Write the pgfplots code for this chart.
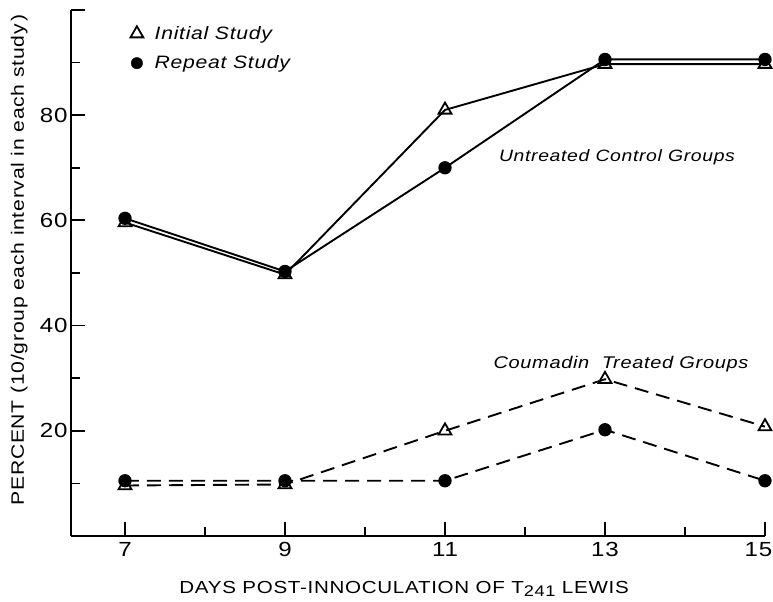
\documentclass[border=0pt]{standalone}
\usepackage{fontspec}
\setmainfont{Liberation Sans}[FakeStretch=1.18, LetterSpace=4]
\usepackage{pgfplots}
\pgfplotsset{compat=1.18}
\pgfplotsset{markonly legend/.style={legend image code/.code={\draw[##1] plot coordinates {(0.3cm,0cm)}; \path (0cm,0cm) (0.85cm,0cm);}}}
\begin{document}
\begin{tikzpicture}
\begin{axis}[
  name=ax,
  scale only axis,
  width=694bp, height=526bp,
  xmin=6.325, xmax=15, ymin=0, ymax=100,
  axis x line=bottom, axis y line=left,
  axis line style={-, line width=2.2bp},
  tick align=inside,
  major tick length=14bp, minor tick length=9bp,
  tick style={line width=1.8bp, black},
  xtick={7,9,11,13,15}, minor xtick={8,10,12,14},
  xticklabels={7,9,11,13,\hspace{-13bp}15},
  ytick={20,40,60,80,100}, yticklabels={20,40,60,80,},
  minor ytick={10,30,50,70,90},
  ticklabel style={font=\fontsize{20.5}{22}\selectfont},
  xticklabel style={yshift=-3bp},
  /pgf/number format/assume math mode=true,
  xlabel={DAYS POST-INNOCULATION OF T\raisebox{-0.35ex}{\fontsize{15.5}{16}\selectfont 241} LEWIS},
  ylabel={PERCENT (10/group each interval in each study\,)},
  xlabel style={font=\fontsize{17.5}{20}\selectfont, at={(axis description cs:0.48,0)}, yshift=-42bp, anchor=north},
  ylabel style={font=\fontsize{18}{20}\selectfont, at={(axis description cs:0,0.525)}, yshift=40bp},
  legend style={at={(axis cs:7.04,97.25)}, anchor=north west, draw=none, fill=none,
    inner sep=0pt, outer sep=0pt,
    font=\fontsize{18}{20}\selectfont\itshape, row sep=11bp},
  legend cell align=left,
]
% Untreated control groups
\addplot[black, line width=1.9bp, mark=triangle, mark size=7.4bp, mark options={fill=white, line width=1.8bp}, forget plot]
  coordinates {(7,59.6) (9,49.7) (11,81) (13,89.7) (15,89.7)};
\addplot[black, line width=1.9bp, mark=*, mark size=5.7bp, forget plot]
  coordinates {(7,60.4) (9,50.3) (11,70) (13,90.6) (15,90.6)};
% Coumadin treated groups
\addplot[black, line width=1.9bp, dash pattern=on 14bp off 8bp, mark=triangle, mark size=7.4bp, mark options={solid, fill=white, line width=1.8bp}, forget plot]
  coordinates {(7,9.6) (9,9.8) (11,20) (13,29.8) (15,20.8)};
\addplot[black, line width=1.9bp, dash pattern=on 14bp off 8bp, mark=*, mark size=5.7bp, mark options={solid}, forget plot]
  coordinates {(7,10.5) (9,10.5) (11,10.5) (13,20.2) (15,10.5)};
\addlegendimage{only marks, black, mark=triangle, mark size=7.4bp, mark options={fill=white, line width=1.8bp}, markonly legend}
\addlegendentry{Initial Study}
\addlegendimage{only marks, black, mark=*, mark size=5.7bp, markonly legend}
\addlegendentry{Repeat Study}
\node[font=\fontsize{16.5}{18}\selectfont\itshape, anchor=center] at (axis cs:13.15,72.0) {Untreated Control Groups};
\node[font=\fontsize{17}{18}\selectfont\itshape, anchor=center] at (axis cs:13.2,32.7) {Coumadin\ \ Treated Groups};
\end{axis}
\pgfresetboundingbox
\path[use as bounding box] (-71bp,-66bp) rectangle (702bp,536bp);
\end{tikzpicture}
\end{document}
